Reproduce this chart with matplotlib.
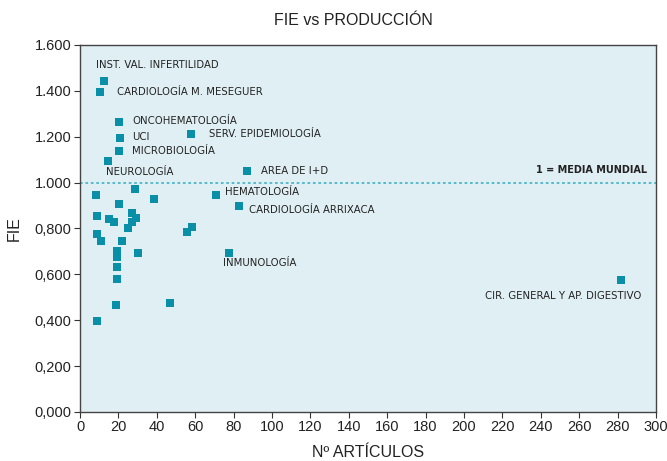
import matplotlib
matplotlib.use('Agg')
import matplotlib.pyplot as plt
from matplotlib.ticker import FixedLocator, FixedFormatter

# units: (name, n articles, FIE)
labelled_names = ['INST. VAL. INFERTILIDAD', 'CARDIOLOGÍA M. MESEGUER', 'ONCOHEMATOLOGÍA',
                  'UCI', 'SERV. EPIDEMIOLOGÍA', 'MICROBIOLOGÍA', 'NEUROLOGÍA', 'AREA DE I+D',
                  'HEMATOLOGÍA', 'CARDIOLOGÍA ARRIXACA', 'INMUNOLOGÍA',
                  'CIR. GENERAL Y AP. DIGESTIVO']
labelled_art = [12.5, 10.5, 20.5, 21, 58, 20.5, 14.5, 87, 71, 83, 77.5, 282]
labelled_fie = [1.445, 1.395, 1.265, 1.195, 1.21, 1.14, 1.095, 1.05, 0.945, 0.898, 0.695, 0.577]

other_art = [28.5, 8.5, 38.5, 20.5, 9, 15, 17.5, 27, 29, 27, 25, 9, 11, 22, 58.5, 55.5,
             19.5, 19.5, 30, 19.5, 19.5, 18.5, 47, 9]
other_fie = [0.972, 0.946, 0.928, 0.907, 0.856, 0.841, 0.828, 0.866, 0.847, 0.827, 0.802,
             0.775, 0.745, 0.747, 0.808, 0.785, 0.703, 0.674, 0.692, 0.630, 0.578, 0.468,
             0.477, 0.398]

media_mundial = 1.0

x_ticks = list(range(0, 301, 20))
y_ticks = [0.0, 0.2, 0.4, 0.6, 0.8, 1.0, 1.2, 1.4, 1.6]
y_tick_labels = ['0,000', '0,200', '0,400', '0,600', '0,800', '1.000', '1.200', '1.400', '1.600']

# label offsets in points (dx, dy, ha)
offsets = {
    'INST. VAL. INFERTILIDAD': (-6, 11, 'left'),
    'CARDIOLOGÍA M. MESEGUER': (12, 0, 'left'),
    'ONCOHEMATOLOGÍA': (9, 0.5, 'left'),
    'UCI': (8.5, 0.5, 'left'),
    'SERV. EPIDEMIOLOGÍA': (13, 0, 'left'),
    'MICROBIOLOGÍA': (9, 0, 'left'),
    'NEUROLOGÍA': (-1, -8, 'left'),
    'AREA DE I+D': (10, 0, 'left'),
    'HEMATOLOGÍA': (6.5, 2, 'left'),
    'CARDIOLOGÍA ARRIXACA': (7, -3, 'left'),
    'INMUNOLOGÍA': (-4, -7.5, 'left'),
    'CIR. GENERAL Y AP. DIGESTIVO': (14.5, -11.5, 'right'),
}

narrow = 'Liberation Sans'
marker_col = '#0a8fa8'
bg_col = '#e0eff4'
text_col = '#222222'

fig = plt.figure(figsize=(6.67, 4.61), dpi=100)
ax = fig.add_axes([0.12, 0.1063, 0.8635, 0.7961])
ax.set_facecolor(bg_col)

ax.axhline(media_mundial, color='#4cb6cc', lw=1.3, ls=(0, (1.5, 1.5)), zorder=1)
ax.scatter(other_art, other_fie, marker='s', s=36, color=marker_col, lw=0, zorder=3)
ax.scatter(labelled_art, labelled_fie, marker='s', s=36, color=marker_col, lw=0, zorder=3)

for name, xa, yf in zip(labelled_names, labelled_art, labelled_fie):
    dx, dy, ha = offsets[name]
    ax.annotate(name, (xa, yf), xytext=(dx, dy), textcoords='offset points',
                ha=ha, va='center', fontsize=7.3, color=text_col)

ax.text(0.985, media_mundial + 0.055, '1 = MEDIA MUNDIAL', transform=ax.get_yaxis_transform(),
        ha='right', va='center', fontsize=7, fontweight='bold', color=text_col)

ax.set_xlim(0, 300)
ax.set_ylim(0, 1.6)
ax.xaxis.set_major_locator(FixedLocator(x_ticks))
ax.yaxis.set_major_locator(FixedLocator(y_ticks))
ax.yaxis.set_major_formatter(FixedFormatter(y_tick_labels))
ax.tick_params(direction='out', length=4, width=0.8, color='#333333', pad=2,
               labelsize=10.5, labelcolor=text_col)
for lab in ax.get_xticklabels() + ax.get_yticklabels():
    lab.set_family(narrow)

for sp in ax.spines.values():
    sp.set_color('#444444')
    sp.set_linewidth(1.0)

ax.set_xlabel('Nº ARTÍCULOS', family=narrow, fontsize=11.5, color=text_col, labelpad=8)
ax.set_ylabel('FIE', family=narrow, fontsize=11.5, color=text_col, labelpad=9)
fig.text(0.53, 0.955, 'FIE vs PRODUCCIÓN', family=narrow, fontsize=11.5, color=text_col,
         ha='center', va='center')

fig.savefig('out.png', dpi=100)
